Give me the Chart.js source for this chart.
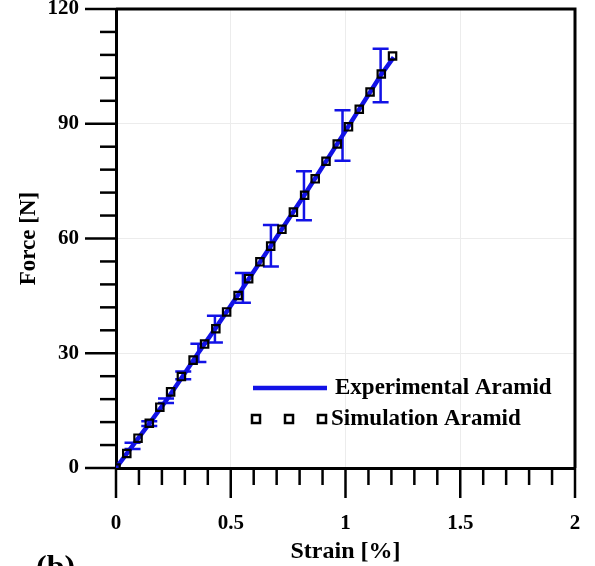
<!DOCTYPE html>
<html>
<head>
<meta charset="utf-8">
<script src="https://cdn.jsdelivr.net/npm/chart.js@4/dist/chart.umd.min.js"></script>
<style>
  html, body { margin: 0; padding: 0; background: #fff; }
  canvas { display: block; }
</style>
</head>
<body>
<canvas id="chartCanvas" width="595" height="566"></canvas>
<script>
// Simulation Aramid (squares)
const simStrain = [0, 0.047, 0.096, 0.145, 0.191, 0.238, 0.285, 0.336, 0.386, 0.435, 0.482, 0.532, 0.578,
                   0.627, 0.674, 0.723, 0.773, 0.822, 0.868, 0.915, 0.964, 1.013, 1.060, 1.107, 1.156, 1.205];
const simForce = [0, 3.8, 7.8, 11.7, 15.9, 19.9, 23.9, 28.2, 32.4, 36.4, 40.8, 45.1, 49.5,
                  53.9, 58.0, 62.4, 66.9, 71.3, 75.6, 80.2, 84.7, 89.2, 93.8, 98.3, 103.0, 107.7];

// Experimental Aramid (line + error bars)
const expStrain = [0, 0.072, 0.145, 0.218, 0.293, 0.359, 0.431, 0.553, 0.675, 0.819, 0.987, 1.153, 1.21];
const expForce = [0, 5.8, 11.6, 17.6, 24.2, 30.1, 36.3, 47.1, 58.1, 71.2, 86.9, 102.6, 107.4];
const expError = [0, 0.8, 0.6, 0.6, 1.0, 2.4, 3.5, 3.9, 5.4, 6.4, 6.6, 7.0, 0];

// Axis ticks
const strainTicks = [0, 0.5, 1, 1.5, 2];
const forceTicks = [0, 30, 60, 90, 120];
const strainMinorStep = 0.1;
const forceMinorStep = 6;

const blue = '#1212e6';
const serif = "'Liberation Serif', 'Times New Roman', serif";

const isMajor = (v, ticks) => ticks.some(t => Math.abs(t - v) < 1e-6);

// error bars drawn through the scales
const errorBars = {
    id: 'errorBars',
    beforeDatasetsDraw(chart) {
        const { ctx, scales: { x, y } } = chart;
        ctx.save();
        ctx.strokeStyle = blue;
        ctx.lineWidth = 2.5;
        expStrain.forEach((s, i) => {
            const e = expError[i];
            if (!e) return;
            const px = x.getPixelForValue(s);
            const top = y.getPixelForValue(expForce[i] + e);
            const bot = y.getPixelForValue(expForce[i] - e);
            const cap = 8;
            ctx.beginPath();
            ctx.moveTo(px, top); ctx.lineTo(px, bot);
            ctx.moveTo(px - cap, top); ctx.lineTo(px + cap, top);
            ctx.moveTo(px - cap, bot); ctx.lineTo(px + cap, bot);
            ctx.stroke();
        });
        ctx.restore();
    }
};

// box frame, major/minor tick marks, legend and panel label
const frame = {
    id: 'frame',
    afterDraw(chart) {
        const { ctx, chartArea: a, scales: { x, y } } = chart;
        ctx.save();
        ctx.strokeStyle = '#000';
        ctx.lineCap = 'butt';

        // x ticks
        ctx.lineWidth = 2.5;
        for (let k = 0; k <= 20; k++) {
            const v = k * strainMinorStep;
            const px = x.getPixelForValue(v);
            const len = isMajor(v, strainTicks) ? 30 : 17;
            ctx.beginPath();
            ctx.moveTo(px, a.bottom);
            ctx.lineTo(px, a.bottom + len);
            ctx.stroke();
        }
        // y ticks
        for (let k = 0; k <= 20; k++) {
            const v = k * forceMinorStep;
            const py = y.getPixelForValue(v);
            const len = isMajor(v, forceTicks) ? 31 : 16;
            ctx.beginPath();
            ctx.moveTo(a.left, py);
            ctx.lineTo(a.left - len, py);
            ctx.stroke();
        }

        // top and right edges
        ctx.lineWidth = 3;
        ctx.beginPath();
        ctx.moveTo(a.left, a.top);
        ctx.lineTo(a.right, a.top);
        ctx.lineTo(a.right, a.bottom);
        ctx.stroke();

        // legend
        const lx = a.left + 137;
        const ly1 = a.top + 379;
        const ly2 = a.top + 410;
        ctx.strokeStyle = blue;
        ctx.lineWidth = 4.5;
        ctx.beginPath();
        ctx.moveTo(lx, ly1);
        ctx.lineTo(lx + 74, ly1);
        ctx.stroke();

        ctx.strokeStyle = '#000';
        ctx.lineWidth = 2.5;
        [3, 36, 69].forEach(dx => {
            ctx.strokeRect(lx + dx - 4, ly2 - 4, 8, 8);
        });

        ctx.fillStyle = '#000';
        ctx.font = 'bold 23px ' + serif;
        ctx.textBaseline = 'middle';
        ctx.textAlign = 'left';
        ctx.fillText('Experimental Aramid', lx + 82, ly1);
        ctx.fillText('Simulation Aramid', lx + 78, ly2);

        // panel label, cut off at the bottom edge
        ctx.font = 'bold 32px ' + serif;
        ctx.textBaseline = 'alphabetic';
        ctx.fillText('(b)', 36, 577);
        ctx.restore();
    }
};

const ctx = document.getElementById('chartCanvas').getContext('2d');
new Chart(ctx, {
    type: 'scatter',
    data: {
        datasets: [
            {
                label: 'Simulation Aramid',
                data: simStrain.map((s, i) => ({ x: s, y: simForce[i] })),
                pointStyle: 'rect',
                pointRadius: 5.2,
                pointBorderWidth: 2.2,
                pointBorderColor: '#000',
                pointBackgroundColor: 'rgba(255,255,255,0)',
                showLine: false,
                order: 0
            },
            {
                label: 'Experimental Aramid',
                data: expStrain.map((s, i) => ({ x: s, y: expForce[i] })),
                showLine: true,
                borderColor: blue,
                borderWidth: 4.5,
                pointRadius: 0,
                tension: 0,
                order: 1
            }
        ]
    },
    options: {
        responsive: false,
        animation: false,
        layout: { padding: { top: 9, right: 20, left: 0, bottom: 0 } },
        plugins: {
            legend: { display: false },
            tooltip: { enabled: false }
        },
        scales: {
            x: {
                type: 'linear',
                min: 0,
                max: 2,
                afterBuildTicks: s => { s.ticks = strainTicks.map(v => ({ value: v })); },
                afterFit: s => { s.height = 98; s.paddingLeft = 0; s.paddingRight = 0; },
                border: { display: true, color: '#000', width: 3 },
                grid: { drawTicks: false, color: '#ececec', lineWidth: 1 },
                ticks: {
                    padding: 43,
                    color: '#000',
                    maxRotation: 0,
                    font: { family: serif, size: 21, weight: 'bold' },
                    callback: v => String(v)
                },
                title: {
                    display: true,
                    text: 'Strain [%]',
                    color: '#000',
                    padding: { top: 5, bottom: 0 },
                    font: { family: serif, size: 24, weight: 'bold' }
                }
            },
            y: {
                type: 'linear',
                min: 0,
                max: 120,
                afterBuildTicks: s => { s.ticks = forceTicks.map(v => ({ value: v })); },
                afterFit: s => { s.width = 116; s.paddingTop = 0; s.paddingBottom = 0; },
                border: { display: true, color: '#000', width: 3 },
                grid: { drawTicks: false, color: '#ececec', lineWidth: 1 },
                ticks: {
                    padding: 37,
                    color: '#000',
                    font: { family: serif, size: 21, weight: 'bold' },
                    callback: v => String(v)
                },
                title: {
                    display: true,
                    text: 'Force [N]',
                    color: '#000',
                    padding: { top: 15, bottom: 0 },
                    font: { family: serif, size: 23, weight: 'bold' }
                }
            }
        }
    },
    plugins: [errorBars, frame]
});
</script>
</body>
</html>
